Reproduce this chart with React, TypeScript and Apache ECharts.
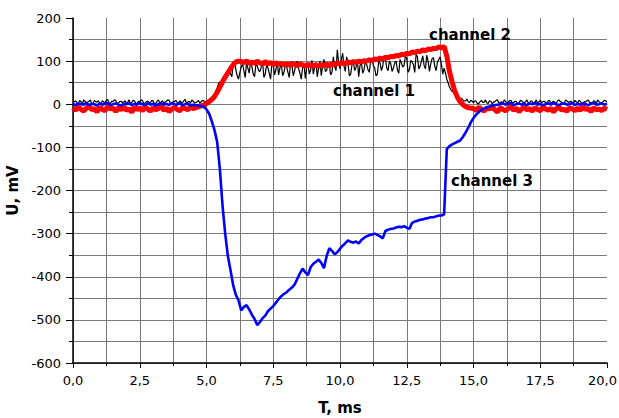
import React, { useEffect, useRef } from 'react';
import * as echarts from 'echarts';

// Time base: samples every 0.1 ms from 0.0 to 20.0 ms
const T_STEP = 0.1;

const xTickLabels = ['0,0', '2,5', '5,0', '7,5', '10,0', '12,5', '15,0', '17,5', '20,0'];
const yTickLabels = ['-600', '-500', '-400', '-300', '-200', '-100', '0', '100', '200'];

// channel 1 (black), U in mV, at t = 0.0, 0.1, ... 20.0 ms
const channel1: number[] = [
  4, 8, 2, 6, 10, 3, 7, 1, 9, 5, 3, 8, 4, 11, 2, 6, 9, 3, 7, 5,
  2, 10, 4, 8, 1, 6, 9, 3, 7, 4, 8, 2, 10, 5, 3, 7, 9, 2, 6, 4,
  8, 3, 11, 5, 2, 7, 4, 9, 6, 8,
  6, 10, 12, 22, 38, 52, 45, 66, 74, 70,
  92, 80, 58, 86, 78, 96, 72, 88, 64, 90,
  76, 98, 70, 85, 58, 92, 80, 68, 95, 74,
  88, 62, 90, 78, 100, 72, 86, 60, 94, 80,
  70, 96, 84, 66, 104, 78, 92, 74, 88, 126,
  82, 118, 76, 96, 70, 100, 86, 64, 98, 80,
  92, 74, 102, 84, 70, 96, 88, 108, 78, 94,
  84, 100, 72, 96, 90, 106, 80, 98, 74, 110,
  88, 112, 82, 100, 94, 108, 78, 104, 92, 84,
  58, 40, 30, 24, 18, 13, 10, 8, 6, 9,
  4, 7, 2, 9, 5, 3, 8, 1, 6, 10, 4, 2, 7, 5, 9, 3, 6, 1, 8, 4,
  10, 3, 7, 5, 2, 9, 6, 4, 8, 1, 7, 3, 10, 5, 2, 8, 6, 4, 9, 3,
  7, 2, 5, 10, 4, 8, 1, 6, 3, 9, 5,
];

// channel 1 (black) at the half steps t = 0.05, 0.15, ... 19.95 ms
const channel1Half: number[] = [
  6, 3, 9, 1, 7, 5, 10, 2, 6, 8, 1, 5, 9, 3, 7, 10, 2, 6, 4, 8,
  5, 1, 9, 3, 7, 10, 2, 6, 4, 9, 1, 7, 3, 8, 5, 10, 2, 6, 9, 1,
  5, 8, 2, 7, 10, 3, 6, 2, 9, 4,
  9, 14, 16, 30, 48, 40, 58, 60, 82, 64,
  100, 66, 74, 94, 62, 84, 98, 70, 92, 78,
  86, 62, 92, 72, 96, 68, 100, 84, 66, 90,
  74, 98, 66, 92, 82, 58, 96, 84, 70, 102,
  86, 64, 100, 90, 76, 96, 68, 110, 78, 96,
  104, 88, 110, 66, 92, 78, 104, 90, 72, 100,
  80, 104, 90, 66, 100, 78, 112, 84, 100, 76,
  96, 80, 104, 86, 112, 74, 102, 92, 116, 82,
  100, 90, 114, 76, 106, 88, 98, 110, 70, 72,
  50, 34, 28, 22, 15, 14, 7, 12, 4, 7,
  8, 1, 6, 4, 10, 2, 7, 5, 9, 3, 6, 10, 1, 8, 4, 7, 2, 9, 5, 6,
  3, 8, 1, 10, 6, 4, 7, 2, 9, 5, 3, 8, 6, 1, 10, 4, 7, 3, 5, 9,
  2, 6, 8, 4, 1, 7, 10, 3, 6, 8,
];

// channel 2 (red)
const channel2: number[] = [
  -8, -14, -6, -12, -16, -9, -4, -13, -10, -18, -7, -12, -15, -5, -11, -9, -17, -8, -13, -6,
  -14, -10, -19, -7, -12, -9, -15, -6, -11, -16, -8, -13, -10, -5, -14, -9, -17, -11, -7, -12,
  -15, -8, -10, -13, -6, -10, -8, -6, -4, -2,
  2, 6, 11, 18, 28, 40, 52, 63, 73, 83,
  92, 98, 100, 99, 96, 101, 94, 98, 95, 100,
  96, 93, 99, 94, 97, 92, 96, 93, 95, 91,
  94, 90, 95, 92, 89, 94, 91, 88, 93, 90,
  89, 92, 88, 91, 90, 93, 89, 94, 92, 95,
  93, 97, 94, 98, 96, 99, 97, 100, 98, 101,
  100, 103, 101, 105, 104, 107, 105, 109, 108, 111,
  110, 113, 112, 116, 115, 118, 117, 121, 120, 123,
  122, 126, 124, 128, 127, 130, 129, 133, 131, 134,
  112, 76, 52, 30, 16, 6, -1, -5, -8, -9,
  -10, -14, -7, -12, -16, -9, -11, -6, -13, -18, -8, -12, -15, -10, -5, -14, -9, -17, -11, -7,
  -13, -10, -16, -8, -12, -15, -6, -11, -14, -9, -18, -10, -7, -13, -12, -16, -8, -11, -15, -9,
  -14, -6, -12, -10, -17, -8, -13, -11, -15, -9, -12,
];

// channel 3 (blue)
const channel3: number[] = [
  1, -2, 2, 0, -1, 3, -2, 1, 0, -3, 2, -1, 1, 3, -2, 0, 2, -1, -3, 1,
  0, 2, -2, 1, -1, 3, 0, -2, 2, -1, 1, -3, 0, 2, -1, 1, -2, 3, 0, -1,
  2, -2, 0, 1, -3, -1, -2, -3, -4, -6,
  -12, -22, -40, -60, -88, -150, -235, -300, -352, -385,
  -420, -442, -455, -478, -470, -466, -476, -488, -498, -512,
  -505, -496, -490, -480, -474, -468, -460, -452, -445, -440,
  -436, -430, -425, -418, -405, -392, -381, -390, -396, -378,
  -370, -365, -360, -368, -380, -352, -334, -340, -348, -343,
  -335, -328, -322, -316, -319, -321, -318, -323, -315, -310,
  -306, -304, -302, -300, -303, -306, -311, -294, -291, -289,
  -288, -286, -284, -285, -283, -286, -289, -275, -272, -270,
  -268, -267, -265, -264, -262, -262, -260, -258, -258, -255,
  -104, -97, -93, -90, -87, -84, -76, -66, -55, -42,
  -32, -24, -18, -13, -10, -7, -5, -3, -2, -1, 0, 2, -1, 1, 3, -2, 0, 2, -1, 1,
  -2, 2, 0, 3, -1, 1, -2, 0, 2, -1, 3, 0, -2, 1, 2, -1, 0, 3, -2, 1,
  -1, 2, 0, -2, 1, 3, -1, 0, 2, -1, 1,
];

const seriesLabels = ['channel 1', 'channel 2', 'channel 3'];

function toPairs(vals: number[]) {
  return vals.map((v, i) => [Math.round(i * T_STEP * 100) / 100, v]);
}

function interleave(main: number[], half: number[]) {
  const out: number[][] = [];
  main.forEach((v, i) => {
    const t = Math.round(i * T_STEP * 100) / 100;
    out.push([t, v]);
    if (i < half.length) out.push([Math.round((t + T_STEP / 2) * 100) / 100, half[i]]);
  });
  return out;
}

const tickFont = 'DejaVu Sans';

export default function App() {
  const ref = useRef<HTMLDivElement>(null);
  useEffect(() => {
    const chart = echarts.init(ref.current!, null, { renderer: 'svg' });
    const gridColor = '#7a7a7a';
    const labelStyle = { fill: '#000', fontFamily: tickFont, fontWeight: 'bold', fontSize: 15, verticalAlign: 'middle' };
    chart.setOption({
      animation: false,
      backgroundColor: '#fff',
      grid: { left: 73, right: 12, top: 18, bottom: 55, containLabel: false, outerBoundsMode: 'none' },
      xAxis: {
        type: 'value',
        min: 0,
        max: 20,
        interval: 2.5,
        name: 'T, ms',
        nameLocation: 'middle',
        nameGap: 37,
        nameTextStyle: { fontFamily: tickFont, fontWeight: 'bold', fontSize: 15, color: '#000' },
        axisLine: { show: true, onZero: false, lineStyle: { color: '#000', width: 1.5 } },
        axisTick: { show: true, inside: false, length: 5, lineStyle: { color: '#000', width: 1 } },
        minorTick: { show: true, splitNumber: 2, length: 3, lineStyle: { color: '#000', width: 1 } },
        splitLine: { show: true, showMaxLine: false, lineStyle: { color: gridColor, width: 1 } },
        minorSplitLine: { show: true, lineStyle: { color: gridColor, width: 1 } },
        axisLabel: {
          margin: 11,
          color: '#000',
          fontFamily: tickFont,
          fontSize: 13,
          hideOverlap: false,
          formatter: (v: number) => {
            const idx = Math.round(v / 2.5);
            const s = xTickLabels[idx] ?? '';
            return idx === xTickLabels.length - 1 ? `{last|${s}}` : s;
          },
          rich: {
            last: { fontFamily: tickFont, fontSize: 13, color: '#000', padding: [0, 9, 0, 0] },
          },
        },
      },
      yAxis: {
        type: 'value',
        min: -600,
        max: 200,
        interval: 100,
        name: 'U, mV',
        nameLocation: 'middle',
        nameGap: 51,
        nameTextStyle: { fontFamily: tickFont, fontWeight: 'bold', fontSize: 15, color: '#000' },
        axisLine: { show: true, onZero: false, lineStyle: { color: '#000', width: 1.5 } },
        axisTick: { show: true, inside: false, length: 7, lineStyle: { color: '#000', width: 1 } },
        minorTick: { show: true, splitNumber: 2, length: 4, lineStyle: { color: '#000', width: 1 } },
        splitLine: { show: true, showMaxLine: false, lineStyle: { color: gridColor, width: 1 } },
        minorSplitLine: { show: true, lineStyle: { color: gridColor, width: 1 } },
        axisLabel: {
          margin: 12,
          color: '#000',
          fontFamily: tickFont,
          fontSize: 13,
          formatter: (v: number) => yTickLabels[Math.round((v + 600) / 100)] ?? '',
        },
      },
      series: [
        {
          name: seriesLabels[0],
          type: 'line',
          data: interleave(channel1, channel1Half),
          showSymbol: false,
          symbol: 'none',
          lineStyle: { color: '#000', width: 1.2 },
          z: 2,
        },
        {
          name: seriesLabels[1],
          type: 'line',
          data: toPairs(channel2),
          showSymbol: false,
          symbol: 'none',
          lineStyle: { color: '#ff0000', width: 5 },
          z: 3,
        },
        {
          name: seriesLabels[2],
          type: 'line',
          data: toPairs(channel3),
          showSymbol: false,
          symbol: 'none',
          lineStyle: { color: '#0000ff', width: 2.6 },
          z: 4,
        },
      ],
      graphic: [
        { type: 'text', x: 429, y: 35, z: 10, style: { text: seriesLabels[1], ...labelStyle } },
        { type: 'text', x: 333, y: 91, z: 10, style: { text: seriesLabels[0], ...labelStyle } },
        { type: 'text', x: 451, y: 181, z: 10, style: { text: seriesLabels[2], ...labelStyle } },
      ],
    });
    return () => chart.dispose();
  }, []);
  return <div ref={ref} style={{ position: 'fixed', left: 0, top: 0, width: 619, height: 418 }} />;
}
